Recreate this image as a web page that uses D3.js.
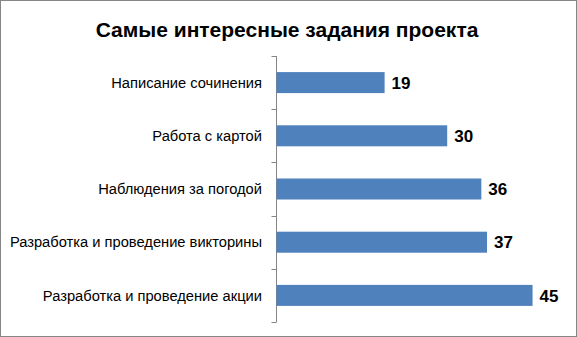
<!DOCTYPE html>
<html><head><meta charset="utf-8">
<script src="https://cdn.jsdelivr.net/npm/d3@7"></script>
<style>html,body{margin:0;padding:0;background:#fff;}svg{display:block;}</style>
</head><body>
<script>
const title = "Самые интересные задания проекта";
const categories = ["Написание сочинения","Работа с картой","Наблюдения за погодой","Разработка и проведение викторины","Разработка и проведение акции"];
const values = [19,30,36,37,45];
const xDomainMax = 50;

(function(){
const W = 577, H = 337;
const svg = d3.select("body").append("svg").attr("width", W).attr("height", H);
svg.append("rect").attr("x",0.5).attr("y",0.5).attr("width",W-1).attr("height",H-1)
  .attr("fill","#fff").attr("stroke","#868686");

svg.append("text").attr("x",287).attr("y",37).attr("text-anchor","middle")
  .attr("font-family","Liberation Sans, Arial, sans-serif").attr("font-weight","bold")
  .attr("font-size",21).attr("fill","#000").text(title);

const pLeft = 276.5, pTop = 56, pBottom = 322;
const x = d3.scaleLinear().domain([0,xDomainMax]).range([pLeft, pLeft + 284.5]);
const y = d3.scaleBand().domain(categories).range([pTop,pBottom]).paddingInner(0.605).paddingOuter(0.3025);

const ag = svg.append("g");
ag.append("line").attr("x1",pLeft).attr("x2",pLeft).attr("y1",pTop).attr("y2",pBottom).attr("stroke","#868686");
const bounds = d3.range(categories.length+1).map(i => pTop + i*(pBottom-pTop)/categories.length);
ag.selectAll("line.t").data(bounds).join("line").attr("class","t")
  .attr("x1",pLeft-5).attr("x2",pLeft).attr("y1",d=>Math.round(d)+0.5).attr("y2",d=>Math.round(d)+0.5).attr("stroke","#868686");

svg.append("g").selectAll("rect").data(values).join("rect")
  .attr("x", x(0)).attr("y",(d,i)=>y(categories[i])).attr("width",d=>x(d)-x(0))
  .attr("height",y.bandwidth()).attr("fill","#4F81BD");

svg.append("g").selectAll("text").data(categories).join("text")
  .attr("x",262).attr("y",c=>y(c)+y.bandwidth()/2).attr("dy","0.36em").attr("text-anchor","end")
  .attr("font-family","Liberation Sans, Arial, sans-serif").attr("font-size",14.7).attr("fill","#000")
  .text(c=>c);

svg.append("g").selectAll("text").data(values).join("text")
  .attr("x",d=>x(d)+7).attr("y",(d,i)=>y(categories[i])+y.bandwidth()/2).attr("dy","0.36em")
  .attr("font-family","Liberation Sans, Arial, sans-serif").attr("font-weight","bold").attr("font-size",17).attr("fill","#000")
  .text(d=>d);
})();
</script>
</body></html>
